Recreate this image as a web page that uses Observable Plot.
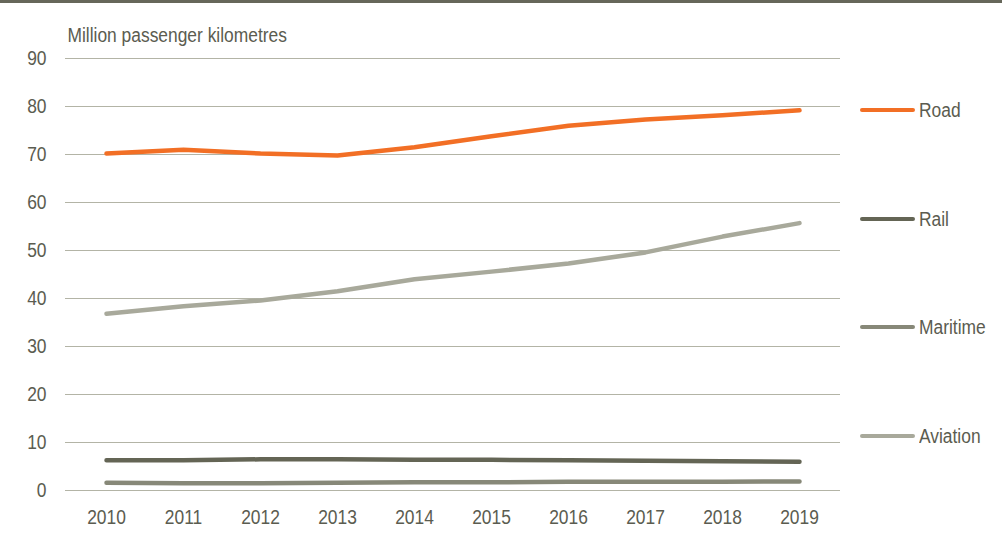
<!DOCTYPE html>
<html>
<head>
<meta charset="utf-8">
<script src="https://cdn.jsdelivr.net/npm/d3@7"></script>
<script src="https://cdn.jsdelivr.net/npm/@observablehq/plot@0.6"></script>
<style>
  body { margin: 0; background: #fff; }
  #wrap { position: relative; width: 1002px; height: 536px; font-family: "Liberation Sans", Arial, sans-serif; color: #5b5c50; }
  #topline { position: absolute; left: 0; top: 0; width: 1002px; height: 3px; background: #66675a; }
  #legend { position: absolute; left: 0; top: 0; }
  .item { position: absolute; display: flex; align-items: center; height: 24px; }
  .sw { width: 55px; height: 4px; border-radius: 2px; margin-right: 4px; flex: none; }
  .lb { font-size: 20px; color: #5b5c50; display: inline-block; transform: scaleX(0.87); transform-origin: left center; white-space: nowrap; }
  svg { display: block; }
</style>
</head>
<body>
<div id="wrap"><div id="chart"></div><div id="topline"></div><div id="legend"></div></div>
<script>
const years = [2010, 2011, 2012, 2013, 2014, 2015, 2016, 2017, 2018, 2019];
const road     = [70.2, 71.0, 70.2, 69.8, 71.5, 73.8, 76.0, 77.3, 78.2, 79.2];
const rail     = [6.3, 6.3, 6.5, 6.5, 6.4, 6.4, 6.3, 6.2, 6.1, 6.0];
const maritime = [1.6, 1.5, 1.5, 1.6, 1.7, 1.7, 1.8, 1.8, 1.8, 1.9];
const aviation = [36.8, 38.4, 39.6, 41.5, 44.0, 45.6, 47.3, 49.6, 52.9, 55.7];
const seriesNames = ["Road", "Rail", "Maritime", "Aviation"];
const seriesColors = ["#f26f25", "#646555", "#878878", "#a8a99b"];
const yTicks = [0, 10, 20, 30, 40, 50, 60, 70, 80, 90];
const yTitle = "Million passenger kilometres";

const allSeries = [road, rail, maritime, aviation];
const data = [];
seriesNames.forEach((name, i) => {
  years.forEach((yr, j) => data.push({series: name, year: String(yr), value: allSeries[i][j]}));
});

const font = '"Liberation Sans", Arial, sans-serif';

const chart = Plot.plot({
  width: 1002,
  height: 536,
  marginLeft: 65,
  marginRight: 162,
  marginTop: 58,
  marginBottom: 46,
  style: {fontFamily: font, fontSize: "20px", color: "#5b5c50", background: "#fff"},
  x: {type: "point", domain: years.map(String), padding: 0.5, label: null, tickSize: 0, tickPadding: 19},
  y: {domain: [0, 90], ticks: yTicks, label: null, tickSize: 0, tickPadding: 19},
  color: {domain: seriesNames, range: seriesColors},
  marks: [
    Plot.ruleY(yTicks, {stroke: "#b3b4a6", strokeWidth: 1.2}),
    Plot.text([yTitle], {frameAnchor: "top-left", lineAnchor: "middle", dx: 2, dy: -23, text: d => d, fill: "#5b5c50", fontSize: 20, textAnchor: "start"}),
    Plot.line(data, {x: "year", y: "value", z: "series", stroke: "series", strokeWidth: 4.5, strokeLinecap: "round", strokeLinejoin: "round"})
  ]
});
// condense the text horizontally (narrow typeface look), scaling about each label's anchor
d3.select(chart).selectAll("text").each(function() {
  const t = this.getAttribute("transform") || "";
  this.setAttribute("transform", (t + " scale(0.87,1)").trim());
});
document.getElementById("chart").appendChild(chart);

// legend (HTML, positioned to the right of the plot)
const legend = document.getElementById("legend");
const legendTops = [110, 219, 327, 436];
seriesNames.forEach((name, i) => {
  const it = document.createElement("div");
  it.className = "item";
  it.style.left = "860px";
  it.style.top = (legendTops[i] - 12) + "px";
  const sw = document.createElement("div");
  sw.className = "sw";
  sw.style.background = seriesColors[i];
  const lb = document.createElement("span");
  lb.className = "lb";
  lb.textContent = name;
  it.appendChild(sw); it.appendChild(lb);
  legend.appendChild(it);
});
</script>
</body>
</html>
